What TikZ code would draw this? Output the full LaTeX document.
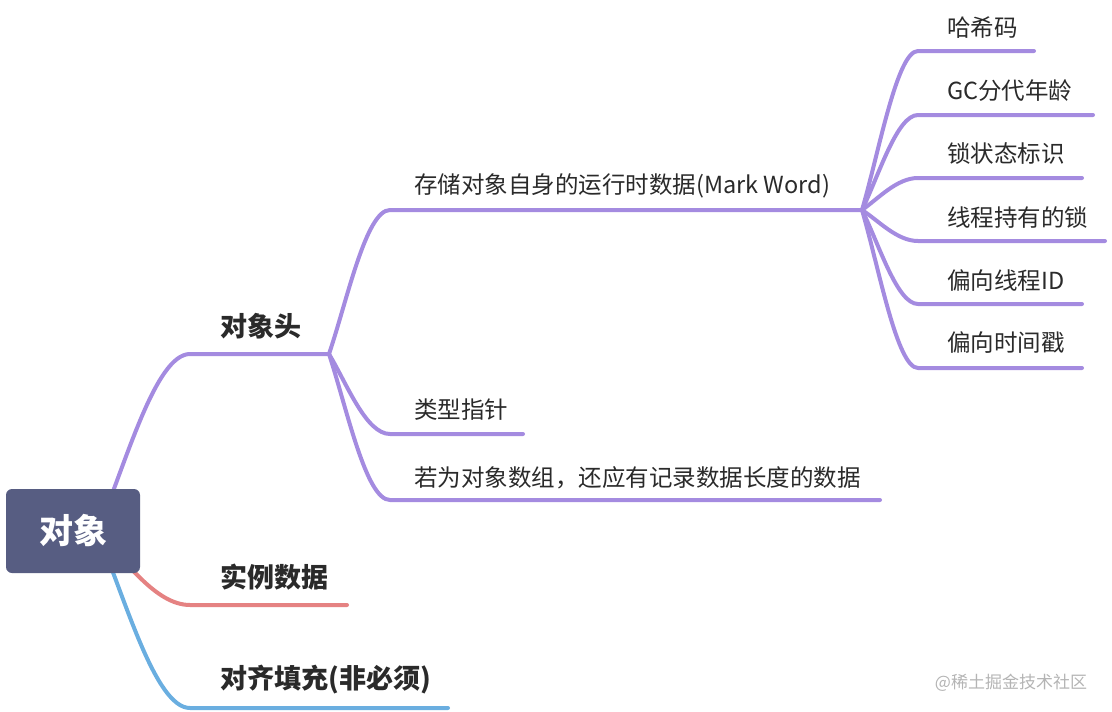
\documentclass[tikz,border=0pt]{standalone}
\usepackage{fontspec}
\setmainfont{Noto Sans CJK SC}
\definecolor{purp}{HTML}{A48BE0}
\definecolor{redb}{HTML}{E58282}
\definecolor{blueb}{HTML}{6AAEE0}
\definecolor{rootc}{HTML}{575D82}
\definecolor{txt}{HTML}{2A2A2A}
\definecolor{wm}{HTML}{B4B4B4}
\begin{document}
\begin{tikzpicture}[x=1pt,y=-1pt,
  conn/.style={line width=4pt, line cap=round, line join=round},
  lone/.style={anchor=west, inner sep=0pt, text=txt, font=\fontsize{27}{27}\selectfont\bfseries},
  ltwo/.style={anchor=west, inner sep=0pt, text=txt, font=\fontsize{23.5}{23.5}\selectfont},
  rootbox/.style={fill=rootc, rounded corners=6pt, minimum width=134pt, minimum height=84pt, inner sep=0pt, text=white, font=\fontsize{34}{34}\selectfont\bfseries},
  wmark/.style={inner sep=0pt, text=wm, font=\fontsize{17}{17}\selectfont}
]
\useasboundingbox (0,0) rectangle (1112,712);
% coordinates
\coordinate (o) at (97,532);
\coordinate (h1) at (190,354);
\coordinate (j1) at (329,354);
\coordinate (r1) at (190,605);
\coordinate (r1e) at (347,605);
\coordinate (b1) at (190,708);
\coordinate (b1e) at (448,708);
% level 2
\coordinate (m1) at (390,210);
\coordinate (j2) at (862,210);
\coordinate (t1) at (390,434);
\coordinate (t1e) at (523,434);
\coordinate (a1) at (390,500);
\coordinate (a1e) at (880,500);
% level 3
\coordinate (c1) at (918,51);  \coordinate (c1e) at (1034,51);
\coordinate (c2) at (918,115); \coordinate (c2e) at (1093,115);
\coordinate (c3) at (918,178); \coordinate (c3e) at (1082,178);
\coordinate (c4) at (918,241); \coordinate (c4e) at (1105,241);
\coordinate (c5) at (918,304); \coordinate (c5e) at (1082,304);
\coordinate (c6) at (918,368); \coordinate (c6e) at (1082,368);

% level 1 connectors
\draw[conn, purp] (o) .. controls (125,467) and (155,354) .. (h1) -- (j1);
\draw[conn, redb] (o) .. controls (125,559) and (155,605) .. (r1) -- (r1e);
\draw[conn, blueb] (o) .. controls (125,597) and (155,708) .. (b1) -- (b1e);

% level 2 connectors
\draw[conn, purp] (j1) .. controls (347,301) and (366,210) .. (m1) -- (j2);
\draw[conn, purp] (j1) .. controls (347,384) and (366,434) .. (t1) -- (t1e);
\draw[conn, purp] (j1) .. controls (347,409) and (366,500) .. (a1) -- (a1e);

% level 3 connectors
\draw[conn, purp] (j2) .. controls (879,152) and (897,51) .. (c1) -- (c1e);
\draw[conn, purp] (j2) .. controls (879,175) and (897,115) .. (c2) -- (c2e);
\draw[conn, purp] (j2) .. controls (879,198) and (897,178) .. (c3) -- (c3e);
\draw[conn, purp] (j2) .. controls (879,221) and (897,241) .. (c4) -- (c4e);
\draw[conn, purp] (j2) .. controls (879,244) and (897,304) .. (c5) -- (c5e);
\draw[conn, purp] (j2) .. controls (879,268) and (897,368) .. (c6) -- (c6e);

% root
\node[rootbox] (root) at (73,531) {对象};

% level 1 labels
\node[lone] (n1) at (220,326) {对象头};
\node[lone] (n2) at (220,577) {实例数据};
\node[lone] (n3) at (220,680) {对齐填充(非必须)};

% level 2 labels
\node[ltwo] (n11) at (414,186) {存储对象自身的运行时数据(Mark Word)};
\node[ltwo] (n12) at (414,410) {类型指针};
\node[ltwo] (n13) at (414,478) {若为对象数组，还应有记录数据长度的数据};

% level 3 labels
\node[ltwo] (n111) at (947,28) {哈希码};
\node[ltwo] (n112) at (947,91) {GC分代年龄};
\node[ltwo] (n113) at (947,154) {锁状态标识};
\node[ltwo] (n114) at (947,218) {线程持有的锁};
\node[ltwo] (n115) at (947,281) {偏向线程ID};
\node[ltwo] (n116) at (947,343) {偏向时间戳};

% watermark
\node[wmark] (wmk) at (1011,683) {@稀土掘金技术社区};
\end{tikzpicture}
\end{document}
